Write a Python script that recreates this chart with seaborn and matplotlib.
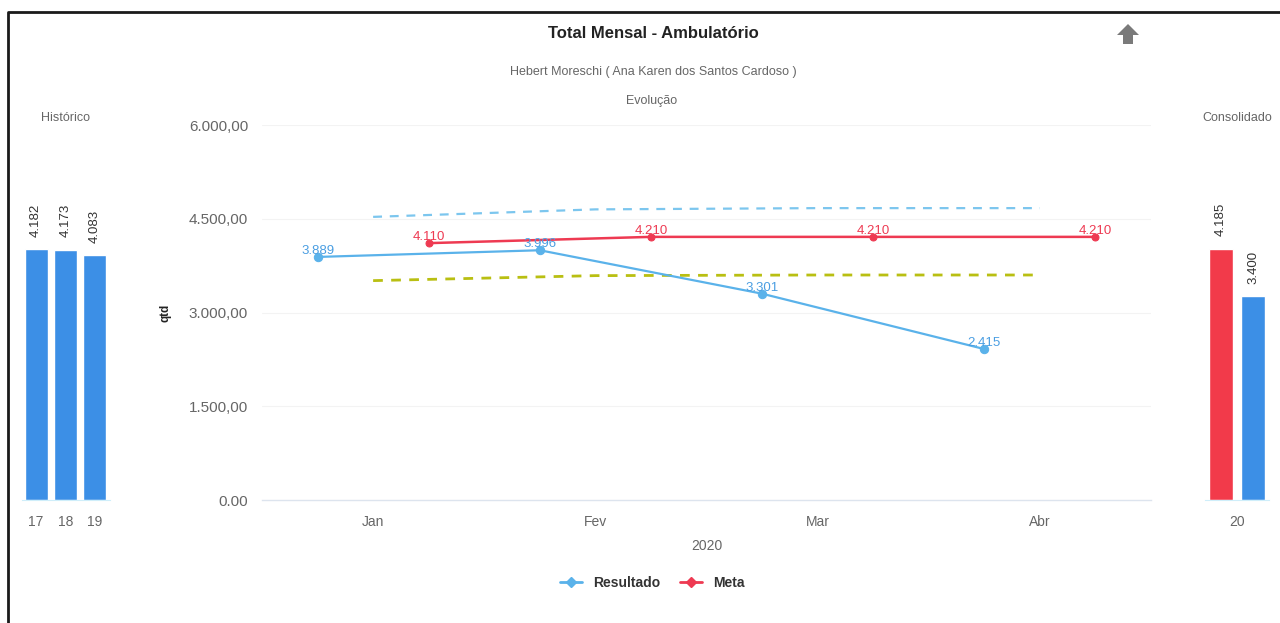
import numpy as np
import pandas as pd
import matplotlib
matplotlib.use('Agg')
import matplotlib.pyplot as plt
import seaborn as sns
from matplotlib.lines import Line2D
from matplotlib.patches import Polygon

# --- data ---
hist_years = ['17', '18', '19']
hist_vals = [4182, 4173, 4083]

cons_year = '20'
cons_series = ['Meta', 'Resultado']
cons_vals = [4185, 3400]

months = ['Jan', 'Fev', 'Mar', 'Abr']
resultado = [3889, 3996, 3301, 2415]
meta = [4110, 4210, 4210, 4210]
limite_sup = [4530, 4650, 4670, 4670]
limite_inf = [3510, 3590, 3600, 3600]

yticks = [0, 1500, 3000, 4500, 6000]

# --- colours ---
c_bar = '#3c8fe6'
c_red_bar = '#f23a4a'
c_res = '#5ab2ea'
c_res_txt = '#4a9ee2'
c_meta = '#ee3a52'
c_sup = '#7cc6ee'
c_inf = '#b9bf12'
c_tick = '#666666'


def br_fmt(v):
    if v == 0:
        return '0.00'
    s = f"{v:,.2f}"
    return s.replace(',', '#').replace('.', ',').replace('#', '.')


def br_int(v):
    return f"{v:,}".replace(',', '.')


sns.set_style('white')
plt.rcParams['font.family'] = ['Liberation Sans', 'DejaVu Sans']

fig = plt.figure(figsize=(12.8, 6.23), dpi=100)

bottom = 1 - 500 / 623
height = 375 / 623

# --- main chart ---
ax = fig.add_axes([262 / 1280, bottom, 889 / 1280, height])
pos = np.arange(len(months))
for y in yticks[1:]:
    ax.axhline(y, color='#f3f3f3', lw=0.8, zorder=0)

sns.lineplot(x=pos, y=limite_sup, color=c_sup, lw=1.6, linestyle=(0, (4, 3.5)), ax=ax)
sns.lineplot(x=pos, y=limite_inf, color=c_inf, lw=2.0, linestyle=(0, (3.5, 3)), ax=ax)
sns.lineplot(x=pos - 0.25, y=resultado, color=c_res, lw=1.6, marker='o', markersize=6,
             markeredgecolor=c_res, ax=ax)
sns.lineplot(x=pos + 0.25, y=meta, color=c_meta, lw=1.8, marker='o', markersize=5,
             markeredgecolor=c_meta, ax=ax)

for xp, v in zip(pos - 0.25, resultado):
    ax.annotate(br_int(v), (xp, v), xytext=(0, 0), textcoords='offset points',
                ha='center', va='bottom', fontsize=9.5, color=c_res_txt)
for xp, v in zip(pos + 0.25, meta):
    ax.annotate(br_int(v), (xp, v), xytext=(0, 0), textcoords='offset points',
                ha='center', va='bottom', fontsize=9.5, color=c_meta)

ax.set_xlim(-0.5, len(months) - 0.5)
ax.set_ylim(0, 6000)
ax.set_yticks(yticks)
ax.set_yticklabels([br_fmt(v) for v in yticks])
ax.set_xticks(pos)
ax.set_xticklabels(months)
ax.tick_params(axis='both', length=0, colors=c_tick, labelsize=10)
ax.tick_params(axis='y', pad=10, labelsize=11)
ax.tick_params(axis='x', pad=11)
for sp in ['top', 'right', 'left']:
    ax.spines[sp].set_visible(False)
ax.spines['bottom'].set_color('#dde4ee')
ax.spines['bottom'].set_linewidth(1)
ax.set_xlabel('2020', color=c_tick, fontsize=10, labelpad=7)
ax.set_ylabel('qtd', fontsize=8.5, fontweight='bold', color='#222222')
ax.yaxis.set_label_coords((172 - 262) / 889, 0.5)

# --- historico panel ---
ax_l = fig.add_axes([21.5 / 1280, bottom, 88 / 1280, height])
df_hist = pd.DataFrame({'ano': hist_years, 'qtd': hist_vals})
sns.barplot(data=df_hist, x='ano', y='qtd', color=c_bar, width=0.79, saturation=1, ax=ax_l)
ax_l.bar_label(ax_l.containers[0], labels=[br_int(v) for v in hist_vals], rotation=90,
               padding=9, fontsize=9.5, color='#333333')
ax_l.set_ylim(0, 6250)
ax_l.set_xlim(-0.5, 2.5)
ax_l.set_yticks([])
ax_l.set_xlabel('')
ax_l.set_ylabel('')
ax_l.tick_params(axis='x', length=0, colors=c_tick, labelsize=10, pad=11)
for sp in ['top', 'right', 'left']:
    ax_l.spines[sp].set_visible(False)
ax_l.spines['bottom'].set_color('#cfeefa')
ax_l.set_title('Histórico', fontsize=9, color=c_tick, pad=3)

# --- consolidado panel ---
ax_r = fig.add_axes([1205 / 1280, bottom, 64 / 1280, height])
df_cons = pd.DataFrame({'ano': [cons_year] * 2, 'serie': cons_series, 'qtd': cons_vals})
sns.barplot(data=df_cons, x='ano', y='qtd', hue='serie', hue_order=cons_series,
            palette={'Meta': c_red_bar, 'Resultado': c_bar}, width=1.0, gap=0.22,
            saturation=1, legend=False, ax=ax_r)
for cont, v in zip(ax_r.containers, cons_vals):
    ax_r.bar_label(cont, labels=[br_int(v)], rotation=90, padding=9, fontsize=9.5,
                   color='#333333')
ax_r.set_ylim(0, 6250)
ax_r.set_xlim(-0.5, 0.5)
ax_r.set_yticks([])
ax_r.set_xlabel('')
ax_r.set_ylabel('')
ax_r.tick_params(axis='x', length=0, colors=c_tick, labelsize=10, pad=11)
for sp in ['top', 'right', 'left']:
    ax_r.spines[sp].set_visible(False)
ax_r.spines['bottom'].set_color('#cfeefa')
ax_r.set_title('Consolidado', fontsize=9, color=c_tick, pad=3)

# --- titles ---
fig.text(653 / 1280, 1 - 33 / 623, 'Total Mensal - Ambulatório', ha='center', va='center',
         fontsize=12, fontweight='bold', color='#222222')
fig.text(653 / 1280, 1 - 72 / 623, 'Hebert Moreschi ( Ana Karen dos Santos Cardoso )',
         ha='center', va='center', fontsize=9, color=c_tick)
fig.text(652 / 1280, 1 - 101 / 623, 'Evolução', ha='center', va='center', fontsize=9,
         color=c_tick)

# export arrow icon
W, H = 1280, 623
arrow = [(1128, 24), (1139, 35), (1133, 35), (1133, 44), (1123, 44), (1123, 35), (1117, 35)]
fig.patches.append(Polygon([(x / W, 1 - y / H) for x, y in arrow], closed=True,
                           transform=fig.transFigure, facecolor='#7a7a7a', edgecolor='none'))

# frame
fig.add_artist(Line2D([8 / W, 8 / W, 1.0], [0, 1 - 12 / H, 1 - 12 / H],
                      transform=fig.transFigure, color='#1a1a1a', lw=2))

# legend
handles = [Line2D([0], [0], color=c_res, lw=2, marker='D', markersize=5),
           Line2D([0], [0], color=c_meta, lw=2, marker='D', markersize=5)]
leg = fig.legend(handles, ['Resultado', 'Meta'], loc='center', bbox_to_anchor=(652 / W, 1 - 583 / H),
                 ncol=2, frameon=False, handlelength=1.6, columnspacing=1.4,
                 prop={'weight': 'bold', 'size': 10})
for t in leg.get_texts():
    t.set_color('#333333')

fig.savefig('out.png', dpi=100, facecolor='white')
